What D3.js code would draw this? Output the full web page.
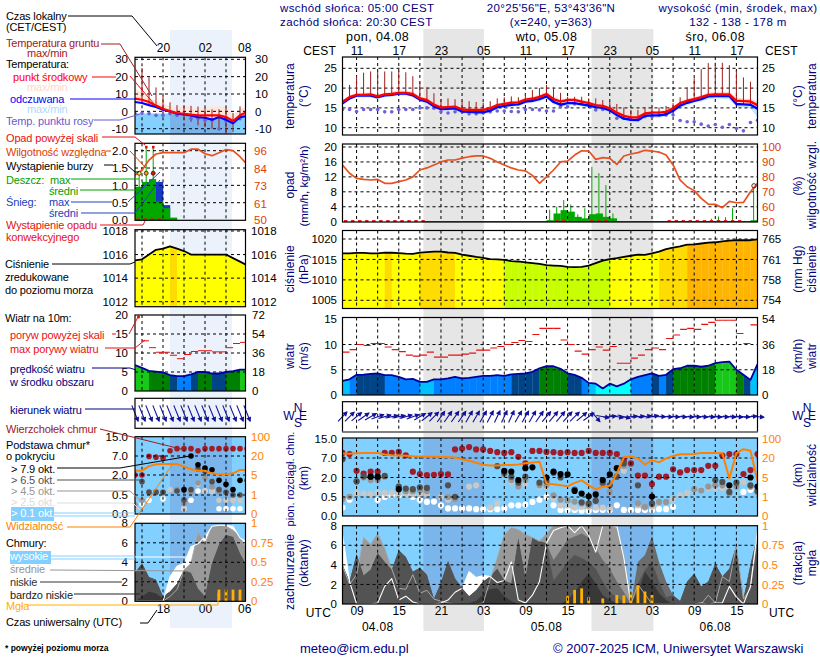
<!DOCTYPE html>
<html><head><meta charset="utf-8">
<script src="https://cdn.jsdelivr.net/npm/d3@7/dist/d3.min.js"></script>
<style>
html,body{margin:0;padding:0;background:#fff}
svg{display:block}
text{font-family:"Liberation Sans",Arial,sans-serif;font-size:11px}
</style></head><body><svg id="c" width="820" height="660"></svg>
<script>
const n = null;
// ---------- main meteogram, hourly from 07 UTC 04.08 ----------
const mainUtcLabels = ['09','15','21','03','09','15','21','03','09','15'];
const mainCestLabels = ['11','17','23','05','11','17','23','05','11','17'];
const tempMid = [16.5,17.7,18.3,18.3,18.4,17.9,18.4,18.5,18.8,18.8,18.5,17.4,17.0,15.8,15.1,15.2,15.3,14.6,14.5,14.5,14.5,14.9,15.7,16.0,16.3,16.4,17.1,17.3,17.8,18.5,17.2,16.6,17.0,17.0,16.6,16.2,15.7,15.5,14.9,13.8,13.0,12.6,12.6,13.6,13.8,13.8,14.0,14.9,16.2,16.8,17.2,17.7,18.3,18.4,18.4,18.4,16.8,16.7,16.6,15.7];
const tempFeel = [16.2,17.4,18.1,18.1,18.1,17.7,18.2,18.3,18.6,18.6,18.2,17.1,16.6,15.4,14.7,14.8,14.9,14.1,14.0,13.9,13.9,14.3,15.2,15.5,15.8,15.9,16.6,16.8,17.2,17.9,16.5,15.8,16.2,16.2,15.9,15.6,15.2,15.0,14.4,13.2,12.3,12.0,11.9,13.0,13.1,13.1,13.4,14.3,15.6,16.3,16.8,17.2,17.9,18.0,18.0,18.0,16.0,15.9,15.8,14.8];
const tempMax = [17.0,18.2,18.8,18.8,18.9,18.4,18.9,19.1,19.4,19.4,19.0,18.0,17.5,16.4,15.7,15.7,15.8,15.1,15.0,15.0,15.0,15.4,16.2,16.5,16.8,16.9,17.6,17.8,18.3,19.0,17.8,17.2,17.5,17.5,17.1,16.7,16.2,16.0,15.5,14.5,13.8,13.3,13.3,14.1,14.3,14.3,14.5,15.4,16.7,17.3,17.7,18.2,18.9,19.0,19.1,19.1,17.6,17.4,17.3,16.6];
const tempMin = [15.8,17.0,17.6,17.6,17.6,17.2,17.7,17.8,18.1,18.1,17.7,16.6,16.0,14.9,14.2,14.3,14.4,13.6,13.5,13.4,13.4,13.8,14.7,15.0,15.3,15.4,16.1,16.3,16.7,17.4,15.9,15.2,15.6,15.7,15.4,15.0,14.6,14.4,13.8,12.6,11.7,11.4,11.3,12.4,12.5,12.5,12.8,13.7,15.0,15.7,16.3,16.6,17.2,17.4,17.4,17.2,15.2,15.1,14.9,12.5];
const dewPoint = [14.6,14.6,14.1,14.6,14.6,14.6,14.0,14.0,14.6,14.6,14.6,15.0,15.0,14.9,14.0,13.7,14.0,14.0,13.5,13.5,13.7,14.0,14.2,14.2,14.1,14.0,14.6,14.6,14.5,14.2,14.2,15.3,15.3,16.0,16.1,16.1,14.5,14.6,14.9,12.4,12.4,12.1,12.4,12.8,12.8,13.2,13.2,13.2,11.8,11.5,11.5,10.9,10.4,10.8,10.1,10.8,9.8,9.2,11.3,11.9];
const soilTop = [19,20.8,23,23.9,24.2,24.2,24.2,24.2,24.4,24,23,21.6,20.2,18.7,17.2,17.4,17.2,16.8,16.7,16.5,16.3,16.7,17.4,17.7,17.9,17.7,18.5,19.5,20,20.8,20.2,18.8,17.8,17.8,17.8,17.4,17.4,17,16.6,16,15.1,14.5,14.5,15.1,15.1,15.1,15.5,16.2,17.7,20.2,22.5,24.8,26.3,26.4,26.4,25.8,24.4,22.7,21.6,19.5];
const relHum = [88,82.4,79,78.3,77.9,78.3,75.7,75.7,76.8,77.9,80,84.6,86,88,90,91.3,91.3,92.6,93.5,94,94,92.4,90,88,86,84.6,84,81,75.7,80,84.6,90,90.6,94.6,97.5,97.3,91.7,92.9,92.4,88.4,94,95.3,96.2,97.8,97.3,96.6,94.6,88,77.9,73.4,70.8,65.6,61.8,61.6,59.4,63.6,62.7,62.9,70,75.7];
const rainMean = [0,0,0,0,0,0,0,0,0,0,0,0,0,0,0,0,0,0,0,0,0,0,0,0,0,0,0,0,0,0.4,2.2,3.1,2.7,1.3,0.9,2,2.2,1.3,0.9,0,0,0,0,0,0,0,0,0,0,0,0,0,0,0,0,0,0,0,0.4,0.4];
const rainMax = [n,n,n,n,n,n,n,n,n,n,n,n,n,n,n,n,n,n,n,n,n,n,n,n,n,n,n,n,n,3.2,4,5.8,4.6,2,3.6,14.7,13,9.8,2.2,n,n,n,n,n,n,n,n,n,n,n,n,n,0.8,1.4,1.2,3.6,n,n,8.9,n];
const convectHours = [0,1,2,3,4,5,6,7,8,9,10,11,30,31,35,36,37,46,47,48,49,50,51,52,53,54,55,56];
const stormOpenHours = [58];
const pressure = [1016.5,1016.5,1016.6,1016.6,1016.5,1016.5,1016.66,1016.64,1016.55,1016.4,1016.35,1016.66,1016.8,1016.9,1016.9,1016.7,1016.6,1016.2,1015.9,1015.6,1015.4,1015.1,1015,1014.9,1014.6,1014.5,1014.3,1014.1,1013.9,1013.6,1013.5,1013.4,1013.2,1013.1,1013.2,1013.5,1014.1,1014.7,1015.1,1015.3,1015.6,1015.9,1016.2,1016.1,1016.5,1016.9,1017.5,1017.9,1018.2,1018.6,1018.7,1018.9,1019.1,1019.2,1019.4,1019.6,1019.7,1019.7,1019.7,1019.9];
const pressureTicks = [1020,1015,1010,1005];
const windSpeed = [2.8,3.1,4,4.05,4.2,4.3,3.95,3.95,3.6,3.1,3.2,2.6,2.6,3.1,3.1,3.3,3.6,3.3,3.4,3.6,3.8,3.8,3.95,3.8,4.1,4.2,4.3,4.6,5.3,5.7,5.7,5.2,4.3,4,3.4,2.4,2.25,1.3,2.25,1.7,2.25,3.1,3.6,3.95,4.3,3.8,4,5.1,5.3,5.8,5.8,5.6,5.8,6.3,6.5,6.6,5,4,3,6.1];
const windGust = [8.5,9,10,9.8,10.2,10.2,9.5,9,8.6,7.9,7.7,7.9,8.5,7.5,7.5,7.9,7.9,8.1,8.3,8.9,8.9,9.3,9.6,10,10.4,10.8,10.6,12,13.2,13.2,13.2,10.9,10,8.7,8.1,9,9.5,8.9,9.6,6.3,6.3,7.3,7.9,9,9.3,9,11.2,11.9,13,13.2,13,14,14.4,14.8,14.8,14.8,12.2,10.2,13.9,13.9];
const windAngle = [47,45,40,35,30,20,15,12,12,15,20,30,38,45,55,55,55,55,60,60,60,62,65,65,65,60,60,60,55,50,50,50,48,45,40,35,-50,-10,5,-10,-15,5,5,10,12,0,-3,-3,-3,-5,-3,-5,-5,-5,-3,-5,-5,-3,5,-5];
const cloudTops = [9.1,8.6,3.7,3,3.5,3.5,9.1,9.1,9.5,8.1,3.5,2.9,2.6,2.7,2.9,2.8,10.5,10.9,11.5,10.5,10.5,9.9,9.4,9.1,9.4,7.5,5.6,9.9,9.9,9.5,9.4,9.1,9.4,9.1,9.1,9.9,9.1,9.1,9.1,8.6,6.5,5.6,2.5,2.5,1.5,2.2,2.2,4.1,3.3,3.9,3.9,3.9,5,5,8,8.6,8.6,2.9,3.9,8.6];
const base79 = [n,n,n,n,2.2,2.2,n,n,1.1,n, n,n,n,n,n,n,n,n,n,n, n,n,n,3.7,3.5,1.8,4.4,4.6,n,2, 3.5,2.9,2.8,.97,.76,.55,.7,1.8,2.8,4.4, n,n,n,n,.53,n,n,n,n,n, n,n,n,n,n,1.4,n,n,2,1.3];
const base65 = [6.7,n,1.7,2.3,2.2,2.0,2.4,n,1.3,1.15, 1.1,1.25,1.2,n,n,1.4,.52,n,n,n, n,n,4.9,3.2,2.2,1.6,2.2,n,1.6,1.7, 3.2,2,n,1.06,.36,.33,.4,1.6,1.4,2.2, 5.6,n,1.4,n,.33,n,n,n,n,n, n,n,n,1.8,1.66,.89,1.6,n,1.4,.97];
const base45 = [.45,.52,1.7,2,1.8,1.8,2.2,n,1.3,.95, .95,1,.95,n,n,.5,.44,n,n,n, n,n,n,2.8,1.8,1.3,1.8,n,1.4,1.4, .63,.43,.41,.38,.33,.28,.4,1.5,.89,2.2, 5,n,.33,.24,.3,.37,.37,n,n,n, 1.1,1,1.3,1.4,1.4,.76,1.3,n,1.3,.85];
const base25 = [n,.52,.8,.76,.72,.85,.82,.82,.76,.76, .72,.72,.72,n,.5,.43,.44,n,1.3,1.4, n,.22,.33,n,1.66,1.28,1.5,n,1.3,1.28, .45,.28,.28,.22,.24,.24,.22,.22,.2,n, 3.7,n,.28,.22,.24,.37,.37,.45,.63,.8, 1.05,1.05,1.2,1.2,1.2,1.05,n,1.66,1.28,1.05];
const base01 = [.22,.43,n,n,n,.43,.5,.63,.63,.76, .5,.43,.37,.38,.28,.2,.2,.2,.2,.18, .18,.18,.18,.2,.28,.28,.3,.37,.43,.52, .28,.16,.16,.16,.14,.14,.16,.16,.16,.28, .16,.16,.16,.16,.16,.18,.18,.24,n,n, n,n,n,n,1.28,n,n,.89,1.05,n];
const visibility = [38,37,39,41,41,41,34,31,30,29,27,26,25,25,24,23,22,19,17.9,16.4,14.8,14.3,14.3,14.6,14.6,15,15.9,16.6,17.2,3.76,3.6,3.4,3.2,3.9,4.4,3.4,2.6,3.1,3.3,8.1,23,26,19.7,15,18.4,16.6,19.7,28,35,35,36,41,41,41,39,4.8,40,56,50,4.3];
const cloudHigh = [7.1,2.3,0,0,0,.1,1.8,2.6,.4,.8,.2,0,0,0,.1,.4,1.2,1.6,3.3,2.7,2.9,2.8,2.2,2.4,4.3,.4,.1,.9,2.3,6.2,7.5,7.8,8,7.3,8,7,5.3,8,8,8,4.7,0,0,0,0,0,0,0,0,0,0,.1,0,.1,.1,1.8,.7,0,1.8,7.5];
const cloudMid = [3.9,2,3,6.8,6.1,7.2,5.7,3.6,1.6,1.5,3,1.1,1.4,.5,.3,.1,0,0,0,0,.1,2.5,4.7,7.1,7.8,7.6,7.1,6.8,6.4,7.2,8,8,8,8,8,8,8,8,8,7.8,5,0,2,1,0,0,0,0,0,0,0,0,.9,.1,2.8,2.3,6,.5,1.6,7];
const cloudLow = [4,2.3,5.1,2.9,3.5,5.2,4.3,3.5,5.5,4.8,3.3,3.7,3,.5,2.2,4.4,2.6,1.6,.8,1.4,2.3,2.8,3.6,2.4,2.1,6.7,2.6,6.8,6.4,6.2,4.5,5.5,6.6,6.9,7.2,6.8,5.7,4.5,3.6,2.3,1.2,0,4.3,5,6.9,4.3,2.3,.9,.3,2.3,3.1,1.8,2.3,4.1,2.8,3.6,6,.5,4,7.1];
const cloudVLow = [4,2.3,5.1,2.9,3.5,5.2,4.3,3.5,5.5,4.8,3.3,3.7,3,.5,2.2,4.4,2.6,1.6,.8,1.4,2.3,2.8,3.6,2.4,2.1,6.7,2.6,6.8,6.4,6.2,2.4,3.3,4.3,5,4.7,4.3,3.6,2.3,1.2,.7,.2,0,2.1,3.5,4.3,2.3,.7,.9,.3,2.3,3.1,1.8,2.3,4.1,2.8,3.6,6,.5,4,7.1];
const cloudDeep = [0,0,0,0,0,0,0,0,0,0,0,0,0,0,0,0,0,0,.1,.3,1,1.5,1.6,.8,.3,0,0,0,0,0,0,0,.4,1.2,2.3,3.1,2.1,.9,.4,.1,0,0,1.2,3.3,2.3,1.1,.4,0,0,0,0,0,0,0,0,0,0,0,0,0];
const fogFrac = [n,n,n,n,n,n,n,n,n,n,n,n,n,n,n,n,n,n,n,n,n,n,n,n,n,n,n,n,n,n,n,n,.1,.18,.2,.085,n,.07,n,.115,.11,.165,.23,.16,.115,n,n,n,n,n,n,n,n,n,n,n,n,n,n,n];
// ---------- left panel, hourly from 14 UTC ----------
const leftHours = [14,15,16,17,18,19,20,21,22,23,24,25,26,27,28,29,30];
const leftTempMid = [7.3,6.7,5.4,3.3,1.5,0,-1,-1.4,-1.9,-2.3,-2.3,-2.3,-2.3,-3.3,-5.6,-2.3,-.4];
const leftTempFeel = [5.4,4.8,3.6,2.5,1,0,-1.3,-1.7,-2.3,-3.3,-3.7,-4.8,-3.3,-4.8,-6.8,-3.3,-2.7];
const leftTempMax = [13,11,8,6.3,4.4,2.9,2.5,2.9,2.5,1.5,1.5,2.9,2.9,2.5,-2.3,1.5,2.5];
const leftFeelMax = [-1.3,-1.3,-1.3,-1.3,-1.3,-1.3,-1.3,-1.7,-2.3,-3.3,-3.7,-4.8,-3.3,-4.8,-6.8,-3.3,-2.7];
const leftDew = [-1.3,-1,-1.3,-2.3,-2.3,-1.3,-2.3,-1.7,-4.2,-4.2,-5.2,-5.2,-10,-5.6,-6.2,-4.2,-3.3];
const leftSoilTop = [n,25,19.6,13.8,9,5.2,3.6,3.2,3.2,2.8,2.2,1.2,1.2,2.2,-.9,2.9,n];
const leftSoilBot = [n,6,4,2,0,-1,-3,-5,-6,-8,-9,-10,-11,-13,-12,-5,n];
const leftRH = [79.8,83,89.8,93.8,94.7,94.7,94.7,94.7,97,97,94,92.7,94.7,96.7,96,92,87];
const leftRainMean = [.96,1.1,1.18,.53,.34,.07,0,0,0,0,0,0,0,0,0,0,0];
const leftSnowMean = [0,0,0,1.1,.43,0,0,0,0,0,0,0,0,0,0,0,0];
const leftRainMax = [1.4,2.1,2.1,n,n,n,n,n,n,n,n,n,n,n,n,n,n];
const stormColors = ['#ffee00','#f0a000','#e01000'];
const leftPressure = [1015.5,1015.6,1016,1016.4,1016.5,1016.7,1016.5,1016.3,1016,1016,1016,1016,1016,1016,1015.7,1015.4,1015.1];
const leftPressureTicks = [1018,1016,1014,1012];
const leftWind = [6.8,6.1,5.3,5.1,4.9,4.2,3.9,3.9,4.4,5,5,4.6,4.6,5,5.2,5.6,5.6];
const leftGust = [n,13.2,11.4,10.2,10.2,9.4,8.5,9.6,10.4,10.6,10.6,10.3,10.3,11.4,12.5,12.8,12.8];
const leftTops = [2,2,6.9,6.7,6.5,9.2,10.1,10.1,10.1,9.2,10.1,10.1,10.1,10.1,10.1,10.1,10.1];
const left79 = [n,n,n,n,n,n,n,.9,7,4.7,3.8,3.4,1.6,1.3,.9,1.6,n];
const left65 = [n,1.5,.7,.7,.7,n,.8,.37,.9,3.6,3,1.5,.9,.7,.5,.5,1.6];
const left45 = [.24,.36,.75,.75,.7,n,.9,.28,.7,1.4,1.8,1.1,.75,n,n,n,n];
const left25 = [.2,n,n,n,n,.9,.85,.14,.8,1.3,.8,.8,.36,.36,.36,.36,n];
const left01 = [n,.26,.36,n,.4,n,n,.14,.36,.8,.8,.8,.14,.14,.14,.14,n];
const leftVis = [8.4,8.4,12,13.4,13.7,13.7,13.7,11.6,9.5,8.4,8.4,6.3,5.5,5.5,6.3,9,9];
const leftHigh = [0,0,0,0,0,2.5,3.6,3.9,5.6,5.9,6.6,7.7,7.8,7.8,7.7,6.5,6.1];
const leftMid = [0,0,0,0,0,.5,1.2,3.2,3.9,7.1,5.9,7.7,7.8,7.7,7.3,6.6,5.3];
const leftLow = [2.9,3.9,2.5,2.2,.5,1,1.8,3.2,2.9,1.3,.5,3.9,5.8,6.8,6.6,4.9,3.6];
const leftDeep = [0,.5,1,.8,.3,0,0,0,0,0,0,0,0,0,0,0,0];
const leftFog = [n,n,n,n,n,n,n,n,n,n,n,n,.15,.15,.15,.15,n];
// ---------- labels ----------
const leftTopLabels = ['20','02','08'];
const leftBottomLabels = ['18','00','06'];
const dateLabels = ['04.08','05.08','06.08'];
const dayLabels = ['pon, 04.08','wto, 05.08','śro, 06.08'];
const baseTicks = [0,.5,2,7,15];
const visTicks = [0,1,5,20,100];

// ---------- helpers ----------
const svg = d3.select('#c');
const NAVY = '#000080';
const ORANGE = '#ff8000', RHC = '#e85020';
const idx = tempMid.map((d,i)=>i);
const mx = d3.scaleLinear([0,59],[342.5,757.5]);
const lx = d3.scaleLinear([14,30],[135,247]);
let clipId = 0;
function T(x,y,s,o={}){
  return svg.append('text').attr('x',x).attr('y',y).text(s)
    .attr('fill',o.fill||'#000').attr('text-anchor',o.a||'start')
    .style('font-size',(o.size||11)+'px').style('font-weight',o.w||'normal')
    .attr('letter-spacing',o.ls===undefined?-0.15:o.ls);
}
function panel(x0,x1,y0,y1){
  const id='cl'+(clipId++);
  svg.append('clipPath').attr('id',id).append('rect').attr('x',x0).attr('y',y0).attr('width',x1-x0).attr('height',y1-y0);
  return {g:svg.append('g').attr('clip-path',`url(#${id})`),x0,x1,y0,y1};
}
function grid(p,xs,ys,color){
  xs.forEach(x=>p.g.append('line').attr('x1',x).attr('x2',x).attr('y1',p.y0).attr('y2',p.y1).attr('stroke',color||'#000').attr('stroke-dasharray','3,3'));
  ys.forEach(y=>p.g.append('line').attr('x1',p.x0).attr('x2',p.x1).attr('y1',y).attr('y2',y).attr('stroke',color||'#000').attr('stroke-dasharray','3,3'));
}
function frame(p,c){
  svg.append('rect').attr('x',p.x0).attr('y',p.y0).attr('width',p.x1-p.x0).attr('height',p.y1-p.y0).attr('fill','none').attr('stroke',c||'#000').attr('stroke-width',1.2);
}
function yaxis(side,x,scale,ticks,fmt,color){
  const a=(side==='l'?d3.axisLeft(scale):d3.axisRight(scale)).tickValues(ticks).tickSize(0).tickPadding(0).tickFormat(fmt);
  const g=svg.append('g').attr('transform',`translate(${x},0)`).call(a);
  g.select('.domain').remove();
  g.selectAll('text').attr('fill',color||'#000').style('font-size','11.5px');
}
function rot(x,y,s,o={}){
  svg.append('text').attr('transform',`translate(${x},${y}) rotate(-90)`).attr('text-anchor','middle').attr('fill',o.fill||NAVY).text(s).style('font-size',(o.size||12)+'px').attr('letter-spacing',o.ls===undefined?0.1:o.ls);
}
const lineGen=(x,y,xs)=>d3.line().defined((d,i)=>d!=null).x((d,i)=>x(xs[i])).y(d=>y(d));
function areaBetween(xs,x,y,top,bot){
  return d3.area().x((d,i)=>x(xs[i])).y0((d,i)=>y(typeof bot==='number'?bot:bot[i])).y1((d,i)=>y(top[i]))(top);
}
function stroke(p,d,c,w){p.g.append('path').attr('d',d).attr('fill','none').attr('stroke',c).attr('stroke-width',w).attr('stroke-linejoin','round');}

// ---------- day/night bands ----------
svg.append('rect').attr('x',170).attr('y',30).attr('width',62).attr('height',598).attr('fill','#ebf2fc');
[[11.5,20.1],[35.4,44.2]].forEach(b=>svg.append('rect').attr('x',mx(b[0])).attr('y',29).attr('width',mx(b[1])-mx(b[0])).attr('height',602).attr('fill','#e6e6e6'));

const mainGridX = d3.range(2,60,3).map(i=>mx(i));
const leftGridX = [15,18,21,24,27].map(h=>lx(h));
const PL=[342.5,757.5], LL=[135,245.5];

// ---------- MAIN temperature ----------
{ const y=d3.scaleLinear([10,25],[127.7,68.3]); const p=panel(PL[0],PL[1],57,135);
  p.g.append('path').attr('d',areaBetween(idx,mx,y,tempMax,tempMid)).attr('fill','#ffd8d4');
  p.g.append('path').attr('d',areaBetween(idx,mx,y,tempFeel,tempMin)).attr('fill','#c4e8ff');
  grid(p,mainGridX,[25,20,15,10].map(y));
  idx.forEach(i=>p.g.append('line').attr('x1',mx(i)).attr('x2',mx(i)).attr('y1',y(soilTop[i])).attr('y2',y(tempFeel[i])).attr('stroke','#9c1c1c').attr('stroke-width',1));
  p.g.selectAll('circle').data(dewPoint).join('circle').attr('cx',(d,i)=>mx(i)).attr('cy',d=>y(d)).attr('r',1.8).attr('fill','#7060d8');
  stroke(p,lineGen(mx,y,idx)(tempFeel),'#0000ff',2.4);
  stroke(p,lineGen(mx,y,idx)(tempMid),'#ff0000',2.4);
  frame(p); yaxis('l',337,y,[25,20,15,10],d=>d); yaxis('r',762,y,[25,20,15,10],d=>d);
}
// ---------- MAIN rain/RH ----------
{ const y=d3.scaleLinear([0,20],[221.7,147]); const yr=d3.scaleLinear([50,100],[221.7,147]); const p=panel(PL[0],PL[1],144,222);
  idx.forEach(i=>{ if(rainMean[i]>0) p.g.append('rect').attr('x',mx(i)).attr('y',y(rainMean[i])).attr('width',mx(1)-mx(0)+.2).attr('height',y(0)-y(rainMean[i])).attr('fill','#00a800');
    if(rainMax[i]!=null) p.g.append('line').attr('x1',mx(i+.45)).attr('x2',mx(i+.45)).attr('y1',y(rainMax[i])).attr('y2',y(0)).attr('stroke','#00a800').attr('stroke-width',1); });
  p.g.append('line').attr('x1',mx(11.6)).attr('x2',PL[1]).attr('y1',y(0)).attr('y2',y(0)).attr('stroke','#204020').attr('stroke-width',1);
  grid(p,mainGridX,[20,16,12,8,4].map(y));
  convectHours.forEach(i=>p.g.append('rect').attr('x',mx(i)+1.5).attr('y',y(0)-1.6).attr('width',3.4).attr('height',2.2).attr('fill','#e01010'));
  stroke(p,lineGen(mx,yr,idx)(relHum),RHC,1.7);
  stormOpenHours.forEach(i=>svg.append('circle').attr('cx',mx(i+.5)).attr('cy',y(9.6)).attr('r',2.2).attr('fill','none').attr('stroke','#333'));
  frame(p); yaxis('l',337,y,[20,16,12,8,4,0],d=>d);
  yaxis('r',762,yr,[100,90,80,70,60,50],d=>d,'#e04000');
}
function pressureColor(v){return v<1014.95?'#c8ff00':v<1016.65?'#ffff00':v<1018.4?'#ffdc00':'#ffb400';}
function windColor(v,a,b){return v<2.3?'#00ffff':v<3.1?'#00c0ff':v<4?'#0080ff':v<a?'#004488':v<b?'#008000':'#18c818';}
// ---------- MAIN pressure ----------
{ const y=d3.scaleLinear([1005,1020],[300.3,239]); const p=panel(PL[0],PL[1],230.5,308.5);
  const id='pm'; svg.append('clipPath').attr('id',id).append('path').attr('d',areaBetween(idx,mx,y,pressure,1000));
  const f=p.g.append('g').attr('clip-path','url(#pm)');
  idx.forEach(i=>f.append('rect').attr('x',mx(i)).attr('y',p.y0).attr('width',mx(1)-mx(0)+.3).attr('height',p.y1-p.y0).attr('fill',pressureColor(pressure[i])));
  grid(p,mainGridX,pressureTicks.map(y));
  stroke(p,lineGen(mx,y,idx)(pressure),'#000',1.8);
  frame(p); yaxis('l',337,y,pressureTicks,d=>d);
  yaxis('r',762,y,pressureTicks,d=>Math.round(d*0.75006));
}
// ---------- MAIN wind ----------
{ const y=d3.scaleLinear([0,15],[395,319.3]); const p=panel(PL[0],PL[1],317.5,395);
  const area=d3.area().x((d,i)=>mx(i)).y0(y(0)).y1(d=>y(d))(windSpeed);
  svg.append('clipPath').attr('id','wm').append('path').attr('d',area);
  const f=p.g.append('g').attr('clip-path','url(#wm)');
  idx.forEach(i=>f.append('rect').attr('x',mx(i)).attr('y',p.y0).attr('width',mx(1)-mx(0)+.3).attr('height',p.y1-p.y0).attr('fill',windColor(windSpeed[i],5,6.2)));
  grid(p,mainGridX,[10,5].map(y));
  stroke(p,lineGen(mx,y,idx)(windSpeed),'#0000a0',1.8);
  idx.forEach(i=>p.g.append('line').attr('x1',mx(i)).attr('x2',mx(i+1)).attr('y1',y(windGust[i])).attr('y2',y(windGust[i])).attr('stroke','#e81010').attr('stroke-width',1.1));
  frame(p); yaxis('l',337,y,[15,10,5,0],d=>d); yaxis('r',762,y,[15,10,5,0],d=>Math.round(d*3.6));
}
function arrows(p,xs,x,ang,len){
  const cy=(p.y0+p.y1)/2;
  ang.forEach((a,i)=>{ const g=svg.append('g').attr('transform',`translate(${x(xs[i])},${cy}) rotate(${-a})`);
    g.append('line').attr('x1',-len/2).attr('x2',len/2).attr('stroke','#10109a').attr('stroke-width',1.1);
    g.append('path').attr('d',`M${len/2+1},0L${len/2-4},-2.6L${len/2-4},2.6Z`).attr('fill','#10109a'); });
}
// ---------- MAIN direction ----------
{ const p=panel(PL[0],PL[1],401.7,431.7); grid(p,mainGridX,[]);
  arrows(p,idx,mx,windAngle,13); frame(p);
  svg.append('line').attr('x1',PL[0]).attr('x2',PL[1]).attr('y1',432).attr('y2',432).attr('stroke','#808080').attr('stroke-width',2);
  [[289,420],[798,420]].forEach(c=>{ T(c[0],c[1],'W',{fill:NAVY,a:'middle',size:12,ls:0});T(c[0]+9,c[1]-8,'N',{fill:NAVY,a:'middle',size:12,ls:0});T(c[0]+9,c[1]+7,'S',{fill:NAVY,a:'middle',size:12,ls:0});T(c[0]+14,c[1],'E',{fill:NAVY,a:'middle',size:12,ls:0}); });
}
function dots(p,xs,x,y,arr,c,r){ arr.forEach((v,i)=>{ if(v!=null) p.g.append('circle').attr('cx',x(xs[i])).attr('cy',y(v)).attr('r',r).attr('fill',c); }); }
// ---------- MAIN cloud base ----------
{ const y=d3.scaleLinear(baseTicks,[516,497,477.5,458,438.5]); const yv=d3.scaleLinear(visTicks,[516,497,477.5,458,438.5]); const p=panel(PL[0],PL[1],438,516);
  p.g.append('rect').attr('x',p.x0).attr('y',p.y0).attr('width',p.x1-p.x0).attr('height',p.y1-p.y0).attr('fill','#82d0ff');
  [[11.5,20.1],[35.4,44.2]].forEach(b=>p.g.append('rect').attr('x',mx(b[0])).attr('y',p.y0).attr('width',mx(b[1])-mx(b[0])).attr('height',p.y1-p.y0).attr('fill','#7ab6ec'));
  dots(p,idx,mx,y,cloudTops,'#a01c28',3.1);
  dots(p,idx,mx,y,base01,'#ffffff',3.1); dots(p,idx,mx,y,base25,'#c8c8c8',3.1); dots(p,idx,mx,y,base45,'#969696',3.1); dots(p,idx,mx,y,base65,'#505050',3.1); dots(p,idx,mx,y,base79,'#000000',3.1);
  grid(p,mainGridX,[.5,2,7].map(y));
  stroke(p,lineGen(mx,yv,idx)(visibility),ORANGE,2);
  frame(p); yaxis('l',337,y,baseTicks,d=>d3.format('.1f')(d)); yaxis('r',762,yv,visTicks,d=>d,ORANGE);
}
function cloudPanel(p,xs,x,high,mid,low,vlow,deep,fog,bands,gx){
  const y=d3.scaleLinear([0,8],[p.y1,p.y0]); const yf=d3.scaleLinear([0,1],[p.y1,p.y0]);
  p.g.append('rect').attr('x',p.x0).attr('y',p.y0).attr('width',p.x1-p.x0).attr('height',p.y1-p.y0).attr('fill','#82d0ff');
  bands.forEach(b=>p.g.append('rect').attr('x',b[0]).attr('y',p.y0).attr('width',b[1]-b[0]).attr('height',p.y1-p.y0).attr('fill','#7ab6ec'));
  [[high,'#ffffff'],[mid,'#999999'],[low,'#6c6c6c'],[vlow,'#535353'],[deep,'#383838']].forEach(l=>p.g.append('path').attr('d',areaBetween(xs,x,y,l[0],0)).attr('fill',l[1]));
  stroke(p,lineGen(x,y,xs)(mid),'#a8a8a8',1);
  stroke(p,lineGen(x,y,xs)(high),'#ffffff',1.1);
  fog.forEach((v,i)=>{ if(v!=null) p.g.append('rect').attr('x',x(xs[i])-1.4).attr('y',yf(v)).attr('width',2.8).attr('height',yf(0)-yf(v)).attr('fill','#ffb000'); });
  grid(p,gx,[2,4,6].map(y));
  return {y,yf};
}
// ---------- MAIN clouds ----------
{ const p=panel(PL[0],PL[1],525.7,604);
  const s=cloudPanel(p,idx,mx,cloudHigh,cloudMid,cloudLow,cloudVLow,cloudDeep,fogFrac,[[mx(11.5),mx(20.1)],[mx(35.4),mx(44.2)]],mainGridX);
  frame(p); yaxis('l',337,s.y,[8,6,4,2,0],d=>d); yaxis('r',762,s.yf,[1,.75,.5,.25,0],d=>d,ORANGE);
}
// x labels main
{ const top=d3.axisTop(mx).tickValues(d3.range(2,60,6)).tickSize(0).tickPadding(0).tickFormat((d,i)=>mainCestLabels[i]);
  const g=svg.append('g').attr('transform','translate(0,55)').call(top); g.select('.domain').remove(); g.selectAll('text').style('font-size','12px');
  const bot=d3.axisBottom(mx).tickValues(d3.range(2,60,6)).tickSize(0).tickPadding(0).tickFormat((d,i)=>mainUtcLabels[i]);
  const g2=svg.append('g').attr('transform','translate(0,606)').call(bot); g2.select('.domain').remove(); g2.selectAll('text').style('font-size','12px');
  dayLabels.forEach((s,i)=>T(mx(5+24*i),41,s,{a:'middle',size:12.5,ls:.4}));
  dateLabels.forEach((s,i)=>T(mx(5+24*i),631,s,{a:'middle',size:12,ls:.3}));
  T(336,55,'CEST',{a:'end',size:12,ls:.2}); T(765,55,'CEST',{size:12,ls:.2}); T(331,617,'UTC',{a:'end',size:12,ls:.2}); T(769,617,'UTC',{size:12,ls:.2});
}
// ---------- LEFT panels ----------
const hs=leftHours;
{ const y=d3.scaleLinear([-10,30],[128.7,59.3]); const p=panel(LL[0],LL[1],57.3,134);
  p.g.append('path').attr('d',areaBetween(hs,lx,y,leftTempMax,leftTempMid)).attr('fill','#ffe6dc');
  p.g.append('path').attr('d',areaBetween(hs,lx,y,leftFeelMax,-14)).attr('fill','#84d0ff');
  svg.append('clipPath').attr('id','lb').append('rect').attr('x',170).attr('y',50).attr('width',62).attr('height',90);
  p.g.append('g').attr('clip-path','url(#lb)').append('path').attr('d',areaBetween(hs,lx,y,leftFeelMax,-14)).attr('fill','#7ab2ea');
  grid(p,leftGridX,[30,20,10,0,-10].map(y));
  hs.forEach((h,i)=>{ if(leftSoilTop[i]!=null) p.g.append('line').attr('x1',lx(h)).attr('x2',lx(h)).attr('y1',y(leftSoilTop[i])).attr('y2',y(leftSoilBot[i])).attr('stroke','#9c1c1c'); });
  dots(p,hs,lx,y,leftDew,'#7060d8',1.8);
  stroke(p,lineGen(lx,y,hs)(leftTempFeel),'#0000ff',2.2);
  stroke(p,lineGen(lx,y,hs)(leftTempMid),'#ff0000',2.2);
  frame(p); yaxis('l',128,y,[30,20,10,0,-10],d=>d); yaxis('r',255,y,[30,20,10,0,-10],d=>d);
}
{ const y=d3.scaleLinear([0,2],[220,150.7]); const yr=d3.scaleLinear([50,96],[220,150.7]); const p=panel(LL[0],LL[1],143.3,220.3);
  hs.forEach((h,i)=>{ const w=lx(15)-lx(14)+.2;
    if(leftSnowMean[i]>0) p.g.append('rect').attr('x',lx(h)).attr('y',y(leftSnowMean[i])).attr('width',w).attr('height',y(0)-y(leftSnowMean[i])).attr('fill','#1838c8');
    if(leftRainMean[i]>0) p.g.append('rect').attr('x',lx(h)).attr('y',y(leftRainMean[i])).attr('width',w).attr('height',y(0)-y(leftRainMean[i])).attr('fill','#00a800');
    if(leftRainMax[i]!=null) p.g.append('line').attr('x1',lx(h+.6)).attr('x2',lx(h+.6)).attr('y1',y(leftRainMax[i])).attr('y2',y(0)).attr('stroke','#00a800'); });
  grid(p,leftGridX,[2,1.5,1,.5].map(y));
  [0,1,2,3].forEach(i=>p.g.append('rect').attr('x',lx(14+i)+1.5).attr('y',y(0)-1.6).attr('width',3.4).attr('height',2).attr('fill','#e01010'));
  stormColors.forEach((c,i)=>{ svg.append('circle').attr('cx',lx(14.6+i)).attr('cy',y(1.35)).attr('r',2).attr('fill',c).attr('stroke','#222').attr('stroke-width',.8); });
  [1,2].forEach(i=>svg.append('rect').attr('x',lx(14.6+i)-1.2).attr('y',y(2.1)-1.4).attr('width',2.6).attr('height',2.6).attr('fill','#e01010'));
  stroke(p,lineGen(lx,yr,hs)(leftRH),RHC,1.7);
  frame(p); yaxis('l',128,y,[2,1.5,1,.5,0],d=>d3.format('.1f')(d)); yaxis('r',254,yr,[96,84,73,61,50],d=>d,'#e04000');
}
{ const y=d3.scaleLinear([1012,1018],[301.7,231]); const p=panel(LL[0],LL[1],229.7,306.7);
  svg.append('clipPath').attr('id','pl').append('path').attr('d',areaBetween(hs,lx,y,leftPressure,1000));
  const f=p.g.append('g').attr('clip-path','url(#pl)');
  hs.forEach((h,i)=>f.append('rect').attr('x',lx(h)).attr('y',p.y0).attr('width',7.2).attr('height',p.y1-p.y0).attr('fill',pressureColor(leftPressure[i])));
  grid(p,leftGridX,leftPressureTicks.map(y));
  stroke(p,lineGen(lx,y,hs)(leftPressure),'#000',1.8);
  frame(p); yaxis('l',128,y,leftPressureTicks,d=>d); yaxis('r',251,y,leftPressureTicks,d=>d);
}
{ const y=d3.scaleLinear([0,20],[391,315]); const p=panel(LL[0],LL[1],315,391);
  svg.append('clipPath').attr('id','wl').append('path').attr('d',areaBetween(hs,lx,y,leftWind,0));
  const f=p.g.append('g').attr('clip-path','url(#wl)');
  hs.forEach((h,i)=>f.append('rect').attr('x',lx(h)).attr('y',p.y0).attr('width',7.2).attr('height',p.y1-p.y0).attr('fill',windColor(leftWind[i],4.8,5.5)));
  grid(p,leftGridX,[15,10,5].map(y));
  stroke(p,lineGen(lx,y,hs)(leftWind),'#0000a0',1.8);
  hs.forEach((h,i)=>{ if(leftGust[i]!=null) p.g.append('line').attr('x1',lx(h)).attr('x2',lx(h+1)).attr('y1',y(leftGust[i])).attr('y2',y(leftGust[i])).attr('stroke','#e81010'); });
  svg.append('circle').attr('cx',138.5).attr('cy',317).attr('r',1.6).attr('fill','#e01010');
  frame(p); yaxis('l',128,y,[20,15,10,5,0],d=>d); yaxis('r',252,y,[20,15,10,5,0],d=>Math.round(d*3.6));
}
{ const p=panel(LL[0],LL[1],398.3,428.3); grid(p,leftGridX,[]); arrows({y0:p.y0,y1:p.y1},hs,lx,leftHours.map(()=>-68),17); frame(p); }
{ const y=d3.scaleLinear(baseTicks,[514,495,475,456,437]); const yv=d3.scaleLinear(visTicks,[514,495,475,456,437]); const p=panel(LL[0],LL[1],436.7,514);
  p.g.append('rect').attr('x',p.x0).attr('y',p.y0).attr('width',p.x1-p.x0).attr('height',p.y1-p.y0).attr('fill','#82d0ff');
  p.g.append('rect').attr('x',170).attr('y',p.y0).attr('width',62).attr('height',p.y1-p.y0).attr('fill','#7ab6ec');
  dots(p,hs,lx,y,leftTops,'#a01c28',2.8);
  dots(p,hs,lx,y,left01,'#fff',2.8); dots(p,hs,lx,y,left25,'#c8c8c8',2.8); dots(p,hs,lx,y,left45,'#969696',2.8); dots(p,hs,lx,y,left65,'#505050',2.8); dots(p,hs,lx,y,left79,'#000',2.8);
  grid(p,leftGridX,[.5,2,7].map(y));
  stroke(p,lineGen(lx,yv,hs)(leftVis),ORANGE,2);
  frame(p); yaxis('l',128,y,baseTicks,d=>d3.format('.1f')(d)); yaxis('r',251,yv,visTicks,d=>d,ORANGE);
}
{ const p=panel(LL[0],LL[1],523.3,601.3);
  const s=cloudPanel(p,hs,lx,leftHigh,leftMid,leftLow,leftLow,leftDeep,leftFog,[[170,232]],leftGridX);
  frame(p); yaxis('l',128,s.y,[8,6,4,2,0],d=>d); yaxis('r',251,s.yf,[1,.75,.5,.25,0],d=>d,ORANGE);
}
{ const top=d3.axisTop(lx).tickValues([18,24,29.6]).tickSize(0).tickPadding(0).tickFormat((d,i)=>leftTopLabels[i]);
  const g=svg.append('g').attr('transform','translate(0,52)').call(top); g.select('.domain').remove(); g.selectAll('text').style('font-size','12px');
  const bot=d3.axisBottom(lx).tickValues([18,24,29.6]).tickSize(0).tickPadding(0).tickFormat((d,i)=>leftBottomLabels[i]);
  const g2=svg.append('g').attr('transform','translate(0,604)').call(bot); g2.select('.domain').remove(); g2.selectAll('text').style('font-size','12px');
}
// ---------- rotated axis titles ----------
rot(294,96,'temperatura'); rot(308,96,'(°C)');
rot(294,185,'opad'); rot(308,186,'(mm/h, kg/m²/h)',{size:11.5,ls:0});
rot(294,269,'ciśnienie'); rot(308,269,'(hPa)');
rot(294,356,'wiatr'); rot(308,356,'(m/s)');
rot(294,479,'pion. rozciągł. chm.',{size:11,ls:0}); rot(308,478,'(km)');
rot(294,572,'zachmurzenie'); rot(308,563,'(oktanty)');
rot(816,96,'temperatura'); rot(802,96,'(°C)');
rot(816,185,'wilgotność wzgl.'); rot(802,186,'(%)');
rot(816,269,'ciśnienie'); rot(802,269,'(mm Hg)');
rot(816,356,'wiatr'); rot(802,356,'(km/h)');
rot(816,475,'widzialność'); rot(802,475,'(km)');
rot(816,563,'mgła'); rot(802,563,'(frakcja)');
// ---------- header/footer ----------
T(280,12,'wschód słońca: 05:00 CEST',{fill:NAVY,size:11.5,ls:.4});
T(280,26,'zachód słońca: 20:30 CEST',{fill:NAVY,size:11.5,ls:.4});
T(551,12,'20°25\'56"E, 53°43\'36"N',{fill:NAVY,a:'middle',size:11.5,ls:.35});
T(551,26,'(x=240, y=363)',{fill:NAVY,a:'middle',size:11.5,ls:.35});
T(738,12,'wysokość (min, środek, max)',{fill:NAVY,a:'middle',size:11.5,ls:.4});
T(738,26,'132 - 138 - 178 m',{fill:NAVY,a:'middle',size:11.5,ls:.4});
T(300,653,'meteo@icm.edu.pl',{fill:NAVY,size:13,ls:0});
T(553,653,'© 2007-2025 ICM, Uniwersytet Warszawski',{fill:NAVY,size:13,ls:0});
T(5,651,'* powyżej poziomu morza',{size:8.5,w:'bold',ls:0});
// ---------- left legend ----------
const L=[
['Czas lokalny',6,20,'#000'],['(CET/CEST)',6,31,'#000'],['Temperatura gruntu',6,47,'#a02020'],['max/min',27,57,'#a02020'],
['Temperatura:',6,68,'#000'],['punkt środkowy',13,81,'#ff0000'],['max/min',27,91,'#ffd8c8'],['odczuwana',10,103,'#0000ff'],
['max/min',27,113,'#a8dcff'],['Temp. punktu rosy',6,125,'#6a5acd'],['Opad powyżej skali',6,142,'#e81010'],['Wilgotność względna',6,156,'#e04000'],
['Wystąpienie burzy',6,170,'#000'],['Deszcz:',6,184,'#00a000'],['max',50,184,'#00a000'],['średni',49,195,'#00a000'],
['Śnieg:',6,206,'#2040c0'],['max',49,206,'#2040c0'],['średni',49,217,'#2040c0'],['Wystąpienie opadu',6,229,'#e81010'],['konwekcyjnego',6,241,'#e81010'],
['Ciśnienie',5,268,'#000'],['zredukowane',5,281,'#000'],['do poziomu morza',5,294,'#000'],['Wiatr na 10m:',5,322,'#000'],
['poryw powyżej skali',10,339,'#e81010'],['max porywy wiatru',10,353,'#e81010'],['prędkość wiatru',10,373,'#000080'],['w środku obszaru',10,386,'#000080'],
['kierunek wiatru',10,414,'#000080'],['Wierzchołek chmur',6,433,'#a02020'],['Podstawa chmur*',6,449,'#000'],['o pokryciu',6,460,'#000'],
['> 7.9 okt.',11,473,'#000'],['> 6.5 okt.',11,484,'#505050'],['> 4.5 okt.',11,495,'#969696'],['> 2.5 okt.',11,506,'#dcdcdc']];
svg.append('rect').attr('x',11).attr('y',507).attr('width',43).attr('height',14).attr('fill','#82d0ff');
svg.append('rect').attr('x',10).attr('y',551).attr('width',41).attr('height',13).attr('fill','#82d0ff');
const L2=[['> 0.1 okt.',11,517,'#fff'],['Widzialność',6,530,'#ff8000'],['Chmury:',6,547,'#000'],['wysokie',10,560,'#fff'],['średnie',10,573,'#969696'],['niskie',10,586,'#333'],['bardzo niskie',10,599,'#222'],['Mgła',6,610,'#ffb000'],['Czas uniwersalny (UTC)',6,626,'#000']];
L.concat(L2).forEach(t=>T(t[1],t[2],t[0],{fill:t[3]}));
const leaders=[
['#000',[[68,16],[132,16],[157,46]]],['#a02020',[[101,44],[120,44],[152,96]]],
['#ff0000',[[92,77],[116,77]]],['#ff0000',[[130,76],[155,105]]],['#0000ff',[[70,99],[135,99]]],
['#6a5acd',[[94,120],[120,120],[140,114]]],['#e81010',[[102,137],[135,137],[145,145]]],
['#e04000',[[106,151],[111,151]]],['#e04000',[[130,151],[146,168]]],['#000',[[104,165],[113,165]]],['#000',[[127,165],[135,172],[139,172]]],
['#00a000',[[71,179],[139,179]]],['#00a000',[[80,190],[144,190]]],['#2040c0',[[71,202],[112,202]]],['#2040c0',[[128,202],[160,172]]],
['#2040c0',[[81,213],[135,213],[160,180]]],['#e81010',[[100,225],[143,225],[145,221]]],
['#000',[[52,264],[130,264],[135,262]]],['#e81010',[[105,348],[135,348],[145,340]]],['#e81010',[[112,334],[116,334]]],['#e81010',[[129,334],[138,317]]],
['#000080',[[92,368],[130,368],[136,370]]],['#000080',[[85,409],[135,409]]],['#a02020',[[100,429],[185,450]]],
['#000',[[57,468],[120,468],[190,456]]],['#505050',[[57,480],[143,480]]],['#969696',[[57,491],[130,491],[143,503]]],['#dcdcdc',[[57,503],[133,503],[140,510]]],
['#82d0ff',[[54,513],[135,513]]],['#82d0ff',[[54,516],[135,516]]],['#ff8000',[[67,527],[130,527],[172,465]]],
['#82d0ff',[[51,556],[135,556]]],['#82d0ff',[[51,559],[135,559]]],['#ffffff',[[135,557],[186,557]]],['#969696',[[50,570],[193,571]]],
['#333',[[40,582],[122,582]]],['#222',[[74,594],[140,594]]],['#ffb000',[[27,605],[218,605],[218,593]]],['#000',[[140,623],[148,623],[157,610]]]];
leaders.forEach(l=>svg.append('path').attr('d',d3.line()(l[1])).attr('fill','none').attr('stroke',l[0]).attr('stroke-width',1));
</script></body></html>
